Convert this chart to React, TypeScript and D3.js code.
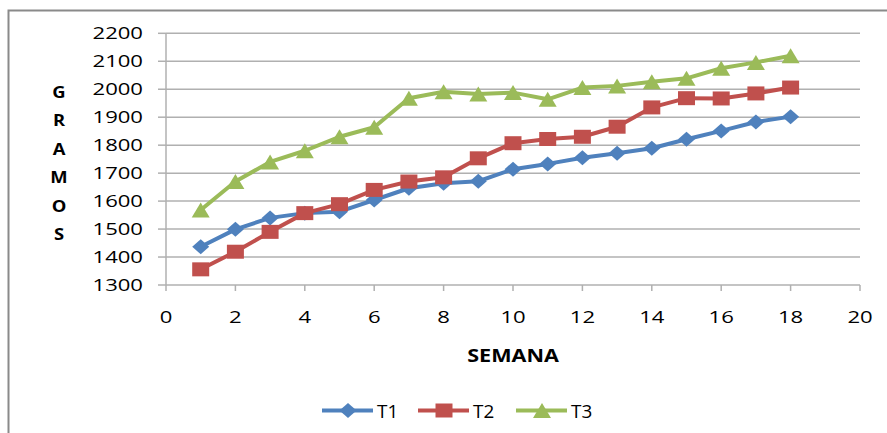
import React from "react";
import * as d3 from "d3";

// Weekly body weight (grams) for three treatments
const weeks = [1, 2, 3, 4, 5, 6, 7, 8, 9, 10, 11, 12, 13, 14, 15, 16, 17, 18];
const t1 = [1437, 1499, 1540, 1557, 1562, 1604, 1646, 1664, 1671, 1714, 1733, 1755, 1771, 1789, 1821, 1851, 1883, 1902];
const t2 = [1356, 1419, 1490, 1557, 1589, 1640, 1670, 1685, 1753, 1807, 1822, 1830, 1866, 1935, 1968, 1967, 1985, 2006];
const t3 = [1568, 1670, 1740, 1780, 1830, 1864, 1968, 1991, 1983, 1988, 1964, 2006, 2012, 2027, 2039, 2075, 2096, 2120];
const seriesNames = ["T1", "T2", "T3"];
const xTicks = [0, 2, 4, 6, 8, 10, 12, 14, 16, 18, 20];
const yTicks = [1300, 1400, 1500, 1600, 1700, 1800, 1900, 2000, 2100, 2200];
const yTitle = ["G", "R", "A", "M", "O", "S"];
const xTitle = "SEMANA";

const COLORS = ["#4F81BD", "#C0504D", "#9BBB59"];
const FONT = "'Open Sans', 'DejaVu Sans', sans-serif";

type Shape = "diamond" | "square" | "triangle";
const SHAPES: Shape[] = ["diamond", "square", "triangle"];

function markerPath(shape: Shape, cx: number, cy: number): string {
  if (shape === "diamond") {
    const w = 8.5, h = 7.5;
    return `M${cx},${cy - h}L${cx + w},${cy}L${cx},${cy + h}L${cx - w},${cy}Z`;
  }
  if (shape === "square") {
    const w = 8.5, h = 7;
    return `M${cx - w},${cy - h}H${cx + w}V${cy + h}H${cx - w}Z`;
  }
  const w = 9, h = 7.5;
  return `M${cx},${cy - h}L${cx + w},${cy + h}L${cx - w},${cy + h}Z`;
}

function SText(props: {
  x: number; y: number; anchor?: string; size: number; bold?: boolean; sx?: number; children: React.ReactNode;
}) {
  const { x, y, anchor = "start", size, bold, sx = 1.38, children } = props;
  return (
    <text
      transform={`translate(${x},${y}) scale(${sx},1)`}
      textAnchor={anchor}
      fontFamily={FONT}
      fontSize={size}
      fontWeight={bold ? 700 : 400}
      fill="#000"
    >
      {children}
    </text>
  );
}

export default function App() {
  const width = 887;
  const height = 433;
  const x = d3.scaleLinear().domain([0, 20]).range([166, 860]);
  const y = d3.scaleLinear().domain([1300, 2200]).range([285, 33.3]);
  const series = [t1, t2, t3];
  const line = d3
    .line<number>()
    .x((_, i) => x(weeks[i]))
    .y((d) => y(d));

  const legendX = [322, 418, 516];

  return (
    <svg
      width={width}
      height={height}
      style={{ position: "absolute", left: 0, top: 0, background: "#fff" }}
    >
      {/* outer frame */}
      <rect x={8.5} y={10.5} width={900} height={500} fill="none" stroke="#8a8a8a" strokeWidth={2} />

      {/* gridlines */}
      {yTicks.map((t) => (
        <line key={`g${t}`} x1={x(0)} x2={x(20)} y1={y(t)} y2={y(t)} stroke="#b0b0b0" strokeWidth={1.5} />
      ))}
      {/* y axis */}
      <line x1={x(0)} x2={x(0)} y1={y(2200)} y2={y(1300)} stroke="#b0b0b0" strokeWidth={1.5} />
      {yTicks.map((t) => (
        <line key={`yt${t}`} x1={x(0) - 8} x2={x(0)} y1={y(t)} y2={y(t)} stroke="#b0b0b0" strokeWidth={1.5} />
      ))}
      {xTicks.map((t) => (
        <line key={`xt${t}`} x1={x(t)} x2={x(t)} y1={y(1300)} y2={y(1300) + 6} stroke="#b0b0b0" strokeWidth={1.5} />
      ))}

      {/* tick labels */}
      {yTicks.map((t) => (
        <SText key={`yl${t}`} x={143} y={y(t) + 5.5} anchor="end" size={16}>
          {t}
        </SText>
      ))}
      {xTicks.map((t) => (
        <SText key={`xl${t}`} x={x(t)} y={322.5} anchor="middle" size={16}>
          {t}
        </SText>
      ))}

      {/* axis titles */}
      {yTitle.map((c, i) => (
        <SText key={`yc${i}`} x={59} y={98 + i * 28.4} anchor="middle" size={16} bold sx={1.15}>
          {c}
        </SText>
      ))}
      <SText x={513} y={362} anchor="middle" size={18} bold sx={1.2}>
        {xTitle}
      </SText>

      {/* series */}
      {series.map((s, si) => (
        <g key={`s${si}`}>
          <path d={line(s) || ""} fill="none" stroke={COLORS[si]} strokeWidth={4} strokeLinejoin="round" />
          {s.map((v, i) => (
            <path key={i} d={markerPath(SHAPES[si], x(weeks[i]), y(v))} fill={COLORS[si]} />
          ))}
        </g>
      ))}

      {/* legend */}
      {seriesNames.map((n, i) => (
        <g key={`lg${i}`}>
          <line x1={legendX[i]} x2={legendX[i] + 51} y1={410.5} y2={410.5} stroke={COLORS[i]} strokeWidth={4} />
          <path d={markerPath(SHAPES[i], legendX[i] + 26, 410.5)} fill={COLORS[i]} />
          <SText x={legendX[i] + 55} y={417.5} size={18} sx={1.05}>
            {n}
          </SText>
        </g>
      ))}
    </svg>
  );
}
